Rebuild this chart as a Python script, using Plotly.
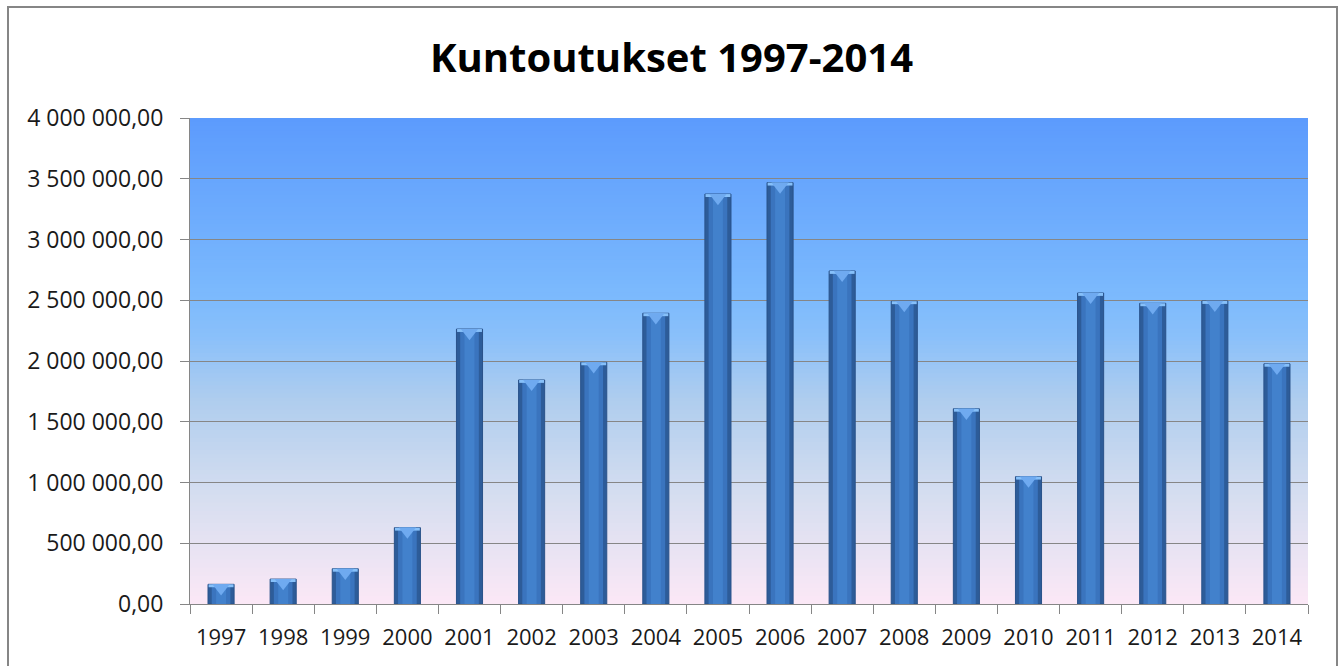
import plotly.graph_objects as go

years = ["1997", "1998", "1999", "2000", "2001", "2002", "2003", "2004", "2005",
         "2006", "2007", "2008", "2009", "2010", "2011", "2012", "2013", "2014"]
values = [162000, 205000, 290000, 628000, 2263000, 1844000, 1989000, 2393000, 3374000,
          3468000, 2741000, 2492000, 1607000, 1048000, 2560000, 2475000, 2494000, 1977000]
y_ticks = [0, 500000, 1000000, 1500000, 2000000, 2500000, 3000000, 3500000, 4000000]
y_tick_labels = ["0,00", "500 000,00", "1 000 000,00", "1 500 000,00", "2 000 000,00",
                 "2 500 000,00", "3 000 000,00", "3 500 000,00", "4 000 000,00"]
title_text = "Kuntoutukset 1997-2014"

FONT = "Open Sans"

fig = go.Figure()

# outer (dark edge) bar
fig.add_trace(go.Bar(x=years, y=values, width=0.42, marker=dict(color="#2D5C99",
                     line=dict(color="#29528A", width=1)), hoverinfo="x+y", showlegend=False))
# inner lighter body
fig.add_trace(go.Bar(x=years, y=values, width=0.30, marker=dict(color="#3A74BE", line=dict(width=0)),
                     hoverinfo="skip", showlegend=False))
fig.add_trace(go.Bar(x=years, y=values, width=0.16, marker=dict(color="#4281CC", line=dict(width=0)),
                     hoverinfo="skip", showlegend=False))
# top highlight band
cap = 0.0075 * max(y_ticks)
fig.add_trace(go.Bar(x=years, y=[cap * 0.8] * len(values), base=[v - cap * 0.8 for v in values], width=0.40,
                     marker=dict(color="#86C0FA", line=dict(width=0)), hoverinfo="skip", showlegend=False))
# highlight triangle
fig.add_trace(go.Scatter(x=years, y=[v - cap for v in values], mode="markers",
                         marker=dict(symbol="triangle-down", size=15, color="#6FAAF0",
                                     line=dict(width=0)), hoverinfo="skip", showlegend=False))

# plot-area gradient background (stripes)
stops = [(0.0, (252, 232, 246)), (0.22, (214, 222, 240)), (0.42, (175, 205, 238)),
         (0.55, (138, 192, 250)), (0.63, (124, 186, 253)), (1.0, (92, 155, 253))]


def col_at(t):
    for i in range(len(stops) - 1):
        t0, c0 = stops[i]
        t1, c1 = stops[i + 1]
        if t0 <= t <= t1:
            f = (t - t0) / (t1 - t0)
            return "rgb(%d,%d,%d)" % tuple(round(c0[k] + (c1[k] - c0[k]) * f) for k in range(3))
    return "rgb(%d,%d,%d)" % stops[-1][1]


shapes = []
N = 120
for i in range(N):
    y0 = i / N
    y1 = (i + 1) / N + 0.002
    shapes.append(dict(type="rect", xref="paper", yref="paper", x0=0, x1=1, y0=y0, y1=min(y1, 1),
                       fillcolor=col_at((i + 0.5) / N), line=dict(width=0), layer="below"))

# chart outer border
shapes.append(dict(type="rect", xref="paper", yref="paper",
                   x0=(8 - 190) / 1118, x1=(1337 - 190) / 1118,
                   y0=(604 - 700) / 486, y1=(604 - 7) / 486,
                   line=dict(color="#868686", width=2), fillcolor="rgba(0,0,0,0)", layer="below"))

fig.update_layout(
    width=1343, height=666,
    margin=dict(l=190, r=35, t=118, b=62, autoexpand=False),
    paper_bgcolor="white",
    plot_bgcolor="rgba(0,0,0,0)",
    barmode="overlay",
    shapes=shapes,
    title=dict(text="<b>" + title_text + "</b>", x=0.5, xanchor="center", y=0.913, yanchor="middle",
               font=dict(family=FONT, size=40, color="#000000")),
    font=dict(family=FONT, color="#1a1a1a"),
    xaxis=dict(type="category", range=[-0.5, len(years) - 0.5], tickson="boundaries",
               ticks="outside", ticklen=9, tickcolor="#868686", tickangle=0, automargin=False,
               showline=True, linecolor="#868686", linewidth=1, showgrid=False,
               tickfont=dict(size=22, family=FONT, color="#1a1a1a"), ticklabelstandoff=14),
    yaxis=dict(range=[0, 4000000], tickvals=y_ticks, ticktext=y_tick_labels, ticks="outside",
               ticklen=9, tickcolor="#868686", showline=True, linecolor="#868686", linewidth=1,
               showgrid=True, gridcolor="#868686", gridwidth=1, zeroline=False, automargin=False,
               tickfont=dict(size=23, family=FONT, color="#1a1a1a"), ticklabelstandoff=12),
    showlegend=False,
)

fig.write_html("out.html", config={"displayModeBar": False},
               post_script="document.body.style.margin='0';document.body.style.overflow='hidden';")
